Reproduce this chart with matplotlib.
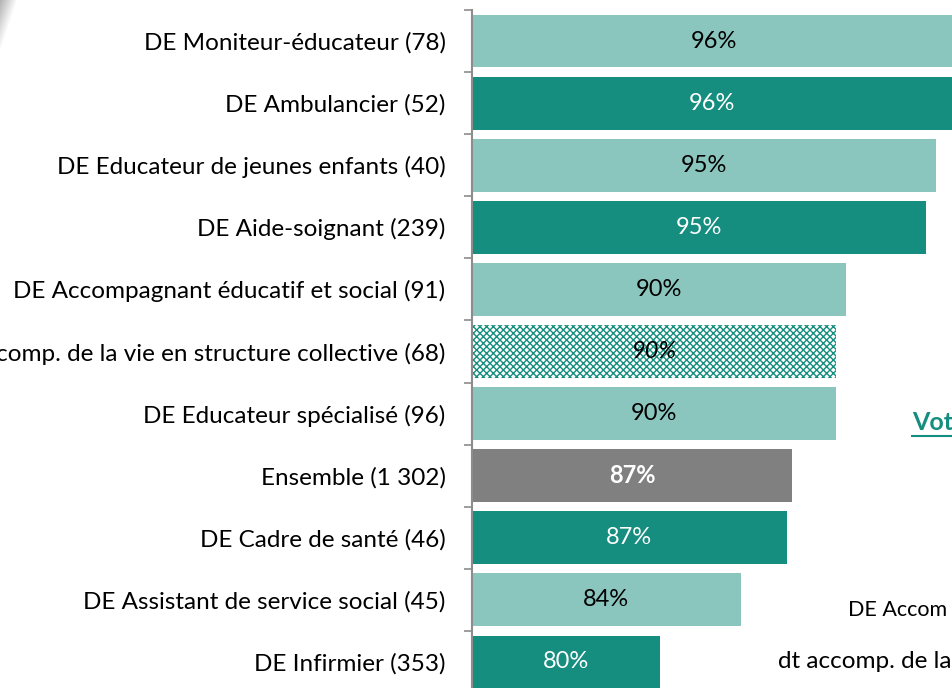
import numpy as np
import matplotlib
matplotlib.use('Agg')
import matplotlib.pyplot as plt


labels = ['DE Moniteur-éducateur (78)', 'DE Ambulancier (52)',
          'DE Educateur de jeunes enfants (40)', 'DE Aide-soignant (239)',
          'DE Accompagnant éducatif et social (91)',
          'dt accomp. de la vie en structure collective (68)',
          'DE Educateur spécialisé (96)', 'Ensemble (1 302)',
          'DE Cadre de santé (46)', 'DE Assistant de service social (45)',
          'DE Infirmier (353)']
values = [96.3, 96.1, 95.2, 94.7, 90.3, 89.8, 89.8, 87.4, 87.1, 84.6, 80.2]
shown = ['96%', '96%', '95%', '95%', '90%', '90%', '90%', '87%', '87%', '84%', '80%']
kinds = ['light', 'dark', 'light', 'dark', 'light', 'hatch', 'light',
         'total', 'dark', 'light', 'dark']

LIGHT = '#8bc6be'
DARK = '#158d7f'
GREY = '#808080'

plt.rcParams['font.family'] = ['Lato', 'DejaVu Sans']
plt.rcParams['hatch.linewidth'] = 1.0

fig = plt.figure(figsize=(9.52, 6.88), dpi=100)
ax = fig.add_axes([472 / 952, -5 / 688, 552 / 952, 683 / 688])

xmin = 70
y = np.arange(len(labels))
for i, (v, k) in enumerate(zip(values, kinds)):
    mid = xmin + (v - xmin) / 2
    if k == 'light':
        ax.barh(i, v - xmin, left=xmin, height=0.85, color=LIGHT)
        ax.text(mid, i, shown[i], ha='center', va='center',
                fontsize=17, color='black')
    elif k == 'dark':
        ax.barh(i, v - xmin, left=xmin, height=0.85, color=DARK)
        ax.text(mid, i, shown[i], ha='center', va='center',
                fontsize=17, color='white')
    elif k == 'total':
        ax.barh(i, v - xmin, left=xmin, height=0.85, color=GREY)
        ax.text(mid, i, shown[i], ha='center', va='center',
                fontsize=17, color='white', fontweight='bold')
    else:
        ax.barh(i, v - xmin, left=xmin, height=0.85, facecolor='white',
                edgecolor=DARK, hatch='xxxxx', linewidth=0)
        ax.text(mid, i, shown[i], ha='center', va='center',
                fontsize=17, color='black', style='italic')

ax.set_xlim(xmin, 100)
ax.set_ylim(len(labels) - 0.5, -0.5)
ax.set_yticks(y)
ax.set_yticklabels(labels, fontsize=17.5)
ax.tick_params(axis='y', which='major', length=0, pad=19)
ax.set_yticks(np.arange(len(labels) + 1) - 0.5, minor=True)
ax.tick_params(axis='y', which='minor', length=6, width=1.2, color='#8c8c8c')
ax.set_xticks([])
for s in ['top', 'right', 'bottom']:
    ax.spines[s].set_visible(False)
ax.spines['left'].set_color('#8c8c8c')
ax.spines['left'].set_linewidth(1.5)

# ombre grise dans le coin haut gauche
corner = fig.add_axes([0, 1 - 60 / 688, 18 / 952, 60 / 688])
grad = np.linspace(0.7, 1.0, 18)[None, :] * np.ones((60, 1))
grad = grad + np.linspace(0, 0.35, 60)[:, None]
corner.imshow(np.clip(grad, 0, 1), cmap='gray', vmin=0, vmax=1, aspect='auto')
corner.axis('off')

# texte du panneau de droite (coupé par le cadrage)
fig.text(912 / 952, 1 - 423 / 688, 'Vot', fontsize=18, fontweight='bold',
         color=DARK, va='center', ha='left')
fig.add_artist(plt.Line2D([912 / 952, 1.0], [1 - 436 / 688] * 2,
                          color=DARK, linewidth=1.5))
fig.text(848 / 952, 1 - 610 / 688, 'DE Accom', fontsize=15.5, color='black',
         va='center', ha='left')
fig.text(778 / 952, 1 - 662 / 688, 'dt accomp. de la', fontsize=17.5,
         color='black', va='center', ha='left')

fig.savefig('out.png', dpi=100)
